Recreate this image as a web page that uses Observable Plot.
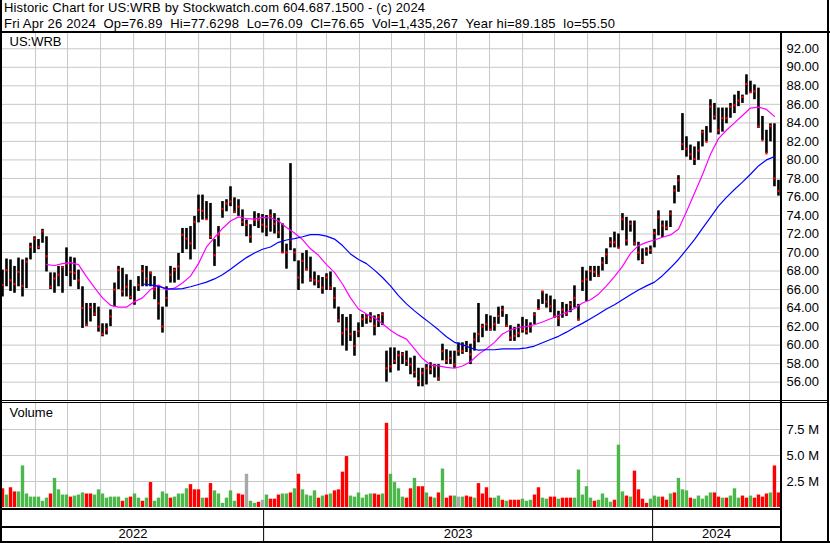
<!DOCTYPE html>
<html><head><meta charset="utf-8">
<script src="https://cdn.jsdelivr.net/npm/d3@7"></script>
<script src="https://cdn.jsdelivr.net/npm/@observablehq/plot@0.6"></script>
<style>
html,body{margin:0;padding:0;background:#fff;}
#chart{position:relative;width:830px;height:543px;overflow:hidden;font-family:"Liberation Sans",Arial,sans-serif;background:#fff;}
.ln{position:absolute;background:#000;}
#chart svg{position:absolute;left:0;}
</style></head><body><div id="chart">
<svg width="830" height="31" style="top:0;left:0" font-family="Liberation Sans, Arial, sans-serif" font-size="13">
<text x="4" y="12" textLength="421" lengthAdjust="spacing" xml:space="preserve">Historic Chart for US:WRB by Stockwatch.com 604.687.1500 - (c) 2024</text>
<text x="4" y="27.5" textLength="611" lengthAdjust="spacing" xml:space="preserve">Fri Apr 26 2024  Op=76.89  Hi=77.6298  Lo=76.09  Cl=76.65  Vol=1,435,267  Year hi=89.185  lo=55.50</text>
</svg>
</div>
<script>
// ---------- data (one sample ≈ 2.5 trading days) ----------
const firstDate = "2022-05-01";
const stepDays = 3.753;
const xStart = "2022-05-01", xEnd = "2024-04-30";

const highs = [68.1,69.3,69.2,68.5,69.4,69.2,69.4,71.0,71.7,71.4,
72.5,71.7,67.8,67.8,68.5,68.5,70.5,69.5,69.4,68.1,
66.3,64.5,64.5,64.5,64.1,62.3,62.3,63.8,66.7,68.5,
68.3,67.6,67.0,66.3,67.4,68.6,68.5,67.9,67.4,66.3,
64.1,66.3,68.5,68.3,69.9,72.6,72.6,72.8,73.9,76.2,
76.2,75.5,75.3,71.4,72.8,75.5,75.7,77.1,75.9,75.7,
74.6,73.5,73.0,74.4,74.2,74.1,74.0,74.6,74.2,73.7,
73.1,70.9,79.6,70.4,69.1,69.9,70.2,69.5,67.9,67.5,
67.3,67.7,67.9,66.2,64.1,63.3,63.0,63.3,61.5,62.4,
63.3,63.3,63.5,63.15,63.3,63.5,59.35,59.7,59.7,59.35,
59.2,59.35,58.6,58.8,57.5,57.5,57.9,58.1,57.9,57.9,
60.1,59.5,59.35,59.35,60.25,60.25,60.4,60.1,61.3,64.5,
62.25,63.3,63.15,63.0,64.1,64.2,63.3,62.1,61.9,62.25,
63.0,62.75,62.4,63.5,64.9,65.8,65.5,65.3,64.9,63.65,
64.6,64.4,64.7,66.4,64.4,68.4,68.0,68.5,68.5,68.5,
69.45,70.4,71.6,72.2,72.0,74.2,73.8,73.4,73.4,71.1,
70.4,70.5,70.7,72.5,74.5,73.4,73.4,74.5,77.2,78.3,
85.0,82.5,81.6,81.4,81.95,83.2,83.6,86.5,86.1,85.6,
85.6,85.6,86.1,87.0,87.4,87.0,89.19,88.5,88.1,87.75,
84.7,83.2,83.9,83.9,77.8];

const lows = [65.2,66.3,65.8,65.6,66.3,65.2,66.1,69.2,69.9,70.3,
71.0,67.9,66.0,65.6,66.3,65.6,67.4,66.3,67.0,66.0,
61.8,62.0,62.5,63.1,61.4,60.9,61.1,62.0,64.1,66.0,
65.2,65.2,64.9,64.3,65.8,66.3,66.3,66.3,64.9,62.7,
61.3,64.1,66.7,66.7,67.0,69.9,70.3,69.2,70.3,73.2,
73.5,73.5,71.4,68.5,70.6,73.7,74.4,74.95,74.2,73.9,
72.8,71.7,71.0,72.8,72.6,72.1,71.7,72.2,72.0,71.5,
69.9,68.2,70.2,69.0,65.9,66.6,68.0,66.8,66.4,66.1,
65.5,65.9,65.9,63.9,62.4,59.9,59.35,60.4,58.8,60.8,
61.9,62.25,62.4,61.0,61.9,62.1,56.0,57.0,57.9,57.2,
57.9,57.7,56.8,56.45,55.5,55.5,55.7,56.8,56.45,56.1,
58.3,57.9,57.9,57.5,58.8,59.0,59.2,57.9,59.35,60.25,
60.8,61.5,61.5,61.5,62.25,63.0,61.9,60.4,60.4,60.8,
61.3,61.1,61.3,62.2,63.8,64.4,64.0,63.5,62.9,62.0,
62.9,63.1,63.5,64.0,62.6,65.8,64.7,66.9,67.3,67.3,
68.0,68.7,70.5,70.5,70.4,72.35,70.7,72.2,70.7,69.1,
68.7,69.6,69.8,70.5,71.8,71.6,72.35,72.7,75.25,76.5,
81.0,80.3,79.95,79.4,79.95,81.4,81.95,82.9,84.3,82.7,
83.0,83.9,84.5,85.0,85.75,86.1,87.0,87.2,86.5,83.4,
82.1,80.7,81.95,77.1,76.09];

const closes = [66.5,68.1,67.0,66.6,67.9,66.4,69.0,70.6,71.5,70.6,
72.3,69.6,66.3,67.2,67.6,68.4,68.8,67.9,67.8,67.0,
64.0,62.2,64.1,63.4,62.0,61.2,61.7,63.1,66.0,68.1,
65.8,66.3,65.2,64.7,66.5,68.0,67.2,67.8,66.0,64.5,
62.0,65.1,67.6,68.1,68.5,71.9,71.5,71.0,73.3,74.6,
74.5,73.6,71.7,69.7,71.9,74.7,75.3,75.5,74.4,74.95,
73.3,73.0,71.7,73.5,73.5,73.0,72.8,74.0,73.1,72.2,
70.0,70.0,71.4,70.0,67.3,69.1,68.2,67.1,67.0,66.9,
66.2,67.3,66.2,65.1,62.7,61.3,61.7,61.2,59.9,61.5,
62.8,63.0,62.8,62.1,63.0,63.3,57.5,57.7,58.3,58.9,
59.0,58.3,57.9,57.1,56.1,57.0,57.5,57.4,57.7,56.4,
59.35,58.3,58.6,57.9,59.35,59.35,59.9,59.0,60.6,61.2,
62.0,62.25,61.7,62.25,63.15,63.8,62.1,60.8,61.0,61.3,
61.7,61.5,62.0,63.3,63.9,65.8,64.7,64.2,63.1,62.9,
63.8,63.4,64.4,65.1,62.75,66.9,67.1,68.0,67.9,67.5,
68.9,69.8,71.1,71.1,70.5,73.6,71.3,73.1,71.0,70.0,
69.1,70.2,70.25,72.1,73.8,72.9,72.7,74.2,76.7,77.8,
81.7,81.2,80.6,80.1,81.0,83.0,81.95,85.75,84.7,83.2,
84.5,84.5,85.75,85.9,86.4,86.8,88.2,87.3,87.4,83.6,
82.1,80.7,83.65,78.0,76.65];

// volume in millions
const volumes = [1.8,1.2,1.9,1.5,1.5,4.0,1.3,1.0,1.0,1.0,
0.6,0.9,1.3,2.8,1.7,1.2,1.2,1.0,1.1,1.2,
1.4,1.3,1.3,1.2,1.7,1.3,0.9,1.0,1.0,1.0,
0.6,0.9,1.0,1.3,0.9,0.6,0.9,2.4,0.6,0.9,
1.5,1.3,0.9,1.0,1.3,1.3,1.8,2.2,1.7,1.7,
0.9,0.9,2.3,1.6,1.3,0.4,0.9,1.6,0.6,1.3,
1.2,3.2,0.6,0.4,0.5,0.7,1.2,0.8,0.8,1.2,
1.3,1.3,1.4,1.8,3.2,1.7,1.2,1.1,1.6,0.9,
1.1,1.2,1.3,1.6,1.7,3.4,4.9,1.1,1.0,1.4,
0.9,1.2,1.3,1.3,1.2,1.3,8.1,3.2,2.4,1.8,
1.0,0.9,1.8,2.8,2.0,2.0,1.4,1.0,0.9,1.4,
3.7,0.9,1.1,1.1,1.0,1.0,1.1,1.0,0.9,2.3,
1.3,1.9,0.9,0.9,1.1,0.7,0.6,0.7,0.7,0.7,
0.8,0.6,0.7,1.2,1.9,0.9,0.8,1.0,1.0,0.8,
0.9,0.9,0.9,0.9,3.6,1.2,2.0,0.9,0.6,0.7,
1.3,0.9,0.5,0.7,6.0,1.5,1.1,1.0,3.5,1.7,
0.8,0.4,0.8,1.1,1.0,1.0,0.7,1.3,1.4,2.8,
1.7,1.6,0.9,0.8,1.1,0.8,1.1,1.4,1.4,1.0,
0.9,0.9,1.1,1.8,0.9,1.1,0.9,1.1,0.9,1.2,
1.0,1.3,1.4,4.0,1.4];

// volume bar colour as read: g = up, r = down, n = unchanged
const volumeDir = ("rgrrgggggg"+"ggrggggrgg"+"grrggggggg"+"rgrggrgrgg"+"ggrggggrrr"+
  "grrggggggr"+"rnggrngrrr"+"ggrgrggggr"+"grgrrrrggg"+"gggrrgrggg"+
  "grrgrrgrgr"+"grrgngrrgr"+"rrrggrgrrr"+"gggrrggrrg"+"rrrgggggrg"+
  "gggrggrgrr"+"rrgggrrgrg"+"ggrgggggrr"+"grgggrrgrr"+"rrgrr").split("");

// moving averages, read every 2nd sample
const fastStart = 11;
const fastMA = [68.7,68.6,68.8,68.9,68.7,67.4,66.2,65.1,64.3,64.1,
64.1,64.7,65.1,66.0,66.5,65.95,66.15,66.7,67.45,68.8,
70.6,71.6,72.6,73.4,73.85,73.65,73.6,73.8,73.75,73.4,
72.7,72.1,71.4,70.4,69.7,68.7,67.85,66.6,65.1,63.9,
63.35,62.95,62.3,61.6,61.05,60.65,59.6,58.55,57.85,57.75,
57.6,57.5,57.75,58.2,59.0,59.6,60.3,61.2,61.65,61.9,
62.0,62.2,62.5,62.85,63.2,63.55,63.95,64.55,64.9,65.5,
66.4,67.4,68.5,69.9,70.75,71.1,71.35,71.65,71.9,72.5,
74.4,76.4,78.4,80.6,82.3,83.2,84.0,84.8,85.6,85.7,
85.45,84.7];
const slowStart = 35;
const slowMA = [66.6,66.5,66.35,66.1,66.05,66.1,66.3,66.55,66.8,67.15,
67.6,68.2,68.85,69.45,69.95,70.35,70.6,71.1,71.35,71.5,
71.7,71.93,71.94,71.77,71.45,70.75,69.85,69.25,68.8,68.1,
67.3,66.4,65.35,64.45,63.7,63.0,62.35,61.65,60.9,60.3,
60.05,59.7,59.45,59.5,59.5,59.6,59.6,59.6,59.7,59.9,
60.25,60.6,60.95,61.4,61.9,62.35,62.85,63.35,63.9,64.35,
64.9,65.45,65.95,66.4,66.8,67.5,68.35,69.25,70.3,71.4,
72.6,73.8,75.0,75.95,76.8,77.6,78.45,79.35,80.0,80.35];

const priceTicks = [56,58,60,62,64,66,68,70,72,74,76,78,80,82,84,86,88,90,92];
const volumeTicks = [2.5,5.0,7.5];
const yearLabels = ["2022","2023","2024"];
const symbol = "US:WRB";
const volumeTitle = "Volume";

// ---------- build ----------
const DAY = 864e5;
const t0 = new Date(firstDate).getTime();
const dateAt = i => new Date(t0 + i * stepDays * DAY);
const xDomain = [new Date(xStart), new Date(xEnd)];
const rows = highs.map((h, i) => ({date: dateAt(i), high: h, low: lows[i], close: closes[i], volume: volumes[i], dir: volumeDir[i]}));
const fastRows = fastMA.map((v, j) => ({date: dateAt(fastStart + 2 * j), value: v}));
const slowRows = slowMA.map((v, j) => ({date: dateAt(slowStart + 2 * j), value: v}));
const monthStarts = d3.utcMonth.range(new Date(+xDomain[0] + DAY), xDomain[1]);
const dirColor = {g: "#4cb84c", r: "#ff0000", n: "#a8a8a8"};
const GRID = "#c8c8c8";
const FONT = "Liberation Sans, Arial, sans-serif";
const baseStyle = {fontFamily: FONT, fontSize: "13px", background: "transparent", overflow: "visible", color: "#000"};

const chart = document.getElementById("chart");
function place(svg, top) { svg.style.position = "absolute"; svg.style.top = top + "px"; svg.style.left = "0px"; chart.appendChild(svg); }

const price = Plot.plot({
  width: 830, height: 367, marginLeft: 2, marginRight: 50, marginTop: 0, marginBottom: 0,
  style: baseStyle,
  x: {type: "utc", domain: xDomain, axis: null},
  y: {domain: [54.02, 93.65], axis: "right", ticks: priceTicks, tickFormat: d => d.toFixed(2), tickSize: 0, tickPadding: 6, label: null},
  marks: [
    Plot.ruleY(priceTicks, {stroke: GRID}),
    Plot.ruleX(monthStarts, {stroke: GRID}),
    Plot.ruleX(rows, {x: "date", y1: "low", y2: "high", stroke: "#000", strokeWidth: 2.6}),
    Plot.dot(rows, {x: "date", y: "close", symbol: "square", r: 1.2, fill: "#ff0000", stroke: null}),
    Plot.line(fastRows, {x: "date", y: "value", stroke: "#ff00ff", strokeWidth: 1.2}),
    Plot.line(slowRows, {x: "date", y: "value", stroke: "#0000ff", strokeWidth: 1.2}),
    Plot.text([symbol], {text: d => d, frameAnchor: "top-left", dx: 7, dy: 3, fontSize: 13, fill: "#000"})
  ]
});
place(price, 33);

const vol = Plot.plot({
  width: 830, height: 105, marginLeft: 2, marginRight: 50, marginTop: 0, marginBottom: 0,
  style: baseStyle,
  x: {type: "utc", domain: xDomain, axis: null},
  y: {domain: [0, 10.1], axis: "right", ticks: volumeTicks, tickFormat: d => d.toFixed(1) + " M", tickSize: 0, tickPadding: 6, label: null},
  marks: [
    Plot.ruleY(volumeTicks, {stroke: GRID}),
    Plot.ruleX(monthStarts, {stroke: GRID}),
    Plot.ruleX(rows, {x: "date", y1: 0, y2: "volume", stroke: d => dirColor[d.dir], strokeWidth: 3.4}),
    Plot.text([volumeTitle], {text: d => d, frameAnchor: "top-left", dx: 7, dy: 5, fontSize: 13, fill: "#000"})
  ]
});
place(vol, 402);

const yearRows = yearLabels.map(label => {
  const s = new Date(Date.UTC(+label, 0, 1)), e = new Date(Date.UTC(+label + 1, 0, 1));
  const a = s < xDomain[0] ? xDomain[0] : s, b = e > xDomain[1] ? xDomain[1] : e;
  return {label, start: s, mid: new Date((+a + +b) / 2)};
});
const years = Plot.plot({
  width: 830, height: 31, marginLeft: 2, marginRight: 50, marginTop: 0, marginBottom: 0,
  style: baseStyle,
  x: {type: "utc", domain: xDomain, axis: null},
  marks: [
    Plot.ruleX(yearRows.filter(d => d.start > xDomain[0]), {x: "start", stroke: "#000"}),
    Plot.text(yearRows, {x: "mid", text: "label", frameAnchor: "middle", dy: 8, fontSize: 13, fill: "#000"})
  ]
});
place(years, 510);

// frame lines
const lines = [
  [0, 0, 2, 543], [827, 0, 2, 543], [0, 31, 830, 2], [780, 33, 2, 510],
  [0, 400, 829, 1], [0, 402, 829, 1], [0, 508, 782, 2], [0, 526, 782, 2], [0, 541, 830, 2]
];
for (const [l, t, w, h] of lines) {
  const d = document.createElement("div");
  d.className = "ln";
  Object.assign(d.style, {left: l + "px", top: t + "px", width: w + "px", height: h + "px"});
  chart.appendChild(d);
}
</script></body></html>
